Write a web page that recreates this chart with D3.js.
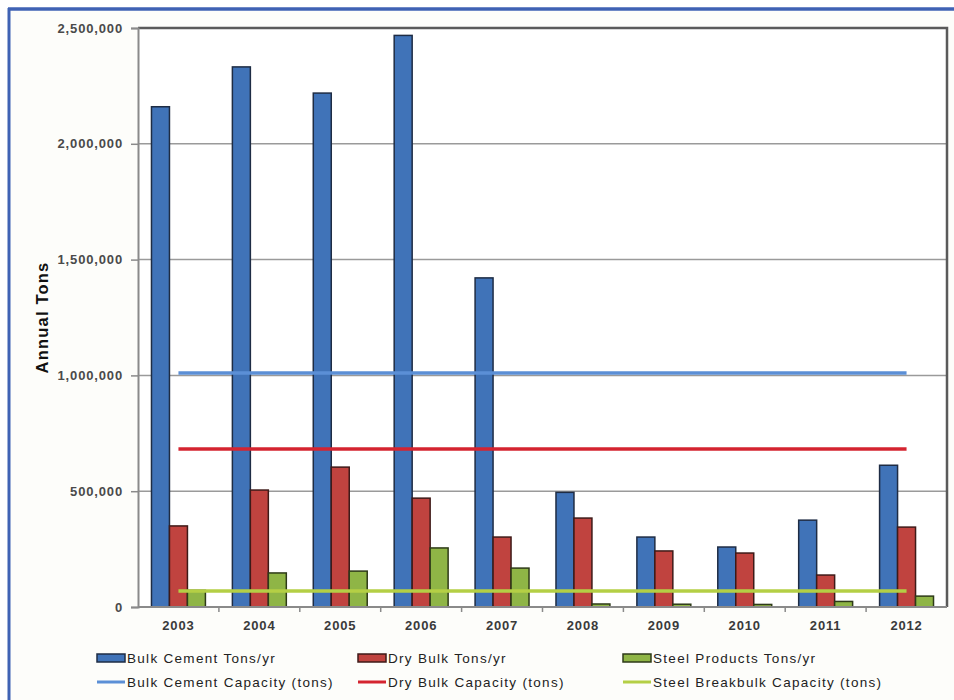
<!DOCTYPE html>
<html>
<head>
<meta charset="utf-8">
<script src="https://cdn.jsdelivr.net/npm/d3@7"></script>
<style>
  body { margin: 0; background: #fff; }
  text { font-family: Arial, "Liberation Sans", sans-serif; }
</style>
</head>
<body>
<div class="box"></div>
<script>
// DATA
const years = ['2003', '2004', '2005', '2006', '2007', '2008', '2009', '2010', '2011', '2012'];
const bulkCement = [2160000, 2332000, 2219000, 2468000, 1421000, 495000, 302000, 259000, 375000, 612000];
const dryBulk = [350000, 505000, 604000, 470000, 302000, 384000, 242000, 233000, 138000, 345000];
const steelProducts = [72000, 147000, 155000, 255000, 168000, 13000, 12000, 11000, 24000, 47000];
const bulkCementCap = [1010000, 1010000, 1010000, 1010000, 1010000, 1010000, 1010000, 1010000, 1010000, 1010000];
const dryBulkCap = [682000, 682000, 682000, 682000, 682000, 682000, 682000, 682000, 682000, 682000];
const steelCap = [69000, 69000, 69000, 69000, 69000, 69000, 69000, 69000, 69000, 69000];
const yTicks = [0, 500000, 1000000, 1500000, 2000000, 2500000];

const barSeries = [
  {name: 'Bulk Cement Tons/yr', values: bulkCement, fill: '#4073b8', stroke: '#1e2c44'},
  {name: 'Dry Bulk Tons/yr', values: dryBulk, fill: '#c0433f', stroke: '#3e1a18'},
  {name: 'Steel Products Tons/yr', values: steelProducts, fill: '#8fb546', stroke: '#2e3a18'}
];
const lineSeries = [
  {name: 'Bulk Cement Capacity (tons)', values: bulkCementCap, color: '#5b8fd6'},
  {name: 'Dry Bulk Capacity (tons)', values: dryBulkCap, color: '#d42430'},
  {name: 'Steel Breakbulk Capacity (tons)', values: steelCap, color: '#b4cf45'}
];

// SETUP
const W = 954, H = 700;
const plot = {left: 138, right: 947, top: 28, bottom: 607};

const svg = d3.select('.box')
              .append('svg')
              .attr('width', W)
              .attr('height', H);

// frame (only top and left edges show)
svg.append('rect').attr('x', 9).attr('y', 9).attr('width', W).attr('height', H)
   .attr('fill', '#fdfdfa');
svg.append('line').attr('x1', 8).attr('x2', W).attr('y1', 9).attr('y2', 9)
   .attr('stroke', '#3f62b4').attr('stroke-width', 3.5);
svg.append('line').attr('x1', 9).attr('x2', 9).attr('y1', 8).attr('y2', H)
   .attr('stroke', '#3f62b4').attr('stroke-width', 3);

// scales
const x0 = d3.scaleBand()
             .domain(years)
             .range([plot.left, plot.right])
             .paddingInner(1 / 3)
             .paddingOuter(1 / 6);

const x1 = d3.scaleBand()
             .domain(barSeries.map(d => d.name))
             .range([0, x0.bandwidth()]);

const y = d3.scaleLinear()
            .domain([0, 2500000])
            .range([plot.bottom, plot.top]);

// plot background
svg.append('rect')
   .attr('x', plot.left).attr('y', plot.top)
   .attr('width', plot.right - plot.left).attr('height', plot.bottom - plot.top)
   .attr('fill', '#fff');

// gridlines
svg.append('g')
   .selectAll('line')
   .data(yTicks.filter(d => d > 0))
   .enter()
   .append('line')
   .attr('x1', plot.left).attr('x2', plot.right)
   .attr('y1', d => y(d)).attr('y2', d => y(d))
   .attr('stroke', '#9a9a9a')
   .attr('stroke-width', 1.5);

// bars
const groups = svg.append('g')
                  .selectAll('g')
                  .data(years)
                  .enter()
                  .append('g')
                  .attr('transform', d => `translate(${x0(d)}, 0)`);

groups.selectAll('rect')
      .data((yr, i) => barSeries.map(s => ({s: s, v: s.values[i]})))
      .enter()
      .append('rect')
      .attr('x', d => x1(d.s.name))
      .attr('y', d => y(d.v))
      .attr('width', x1.bandwidth())
      .attr('height', d => y(0) - y(d.v))
      .attr('fill', d => d.s.fill)
      .attr('stroke', d => d.s.stroke)
      .attr('stroke-width', 1.5);

// capacity lines
const line = d3.line()
               .x((d, i) => x0(years[i]) + x0.bandwidth() / 2)
               .y(d => y(d));

svg.append('g')
   .selectAll('path')
   .data(lineSeries)
   .enter()
   .append('path')
   .attr('d', d => line(d.values))
   .attr('fill', 'none')
   .attr('stroke', d => d.color)
   .attr('stroke-width', 3.5);

// plot border
svg.append('path')
   .attr('d', `M${plot.left},${plot.top}H${plot.right}V${plot.bottom}`)
   .attr('fill', 'none')
   .attr('stroke', '#5a5a5a')
   .attr('stroke-width', 2.5);

// y axis
const yAxis = d3.axisLeft(y)
                .tickValues(yTicks)
                .tickFormat(d3.format(','))
                .tickSize(7)
                .tickPadding(8);

const gy = svg.append('g')
              .attr('transform', `translate(${plot.left}, 0)`)
              .call(yAxis);
gy.select('.domain').attr('stroke', '#8a8a8a').attr('stroke-width', 2);
gy.selectAll('.tick line').attr('stroke', '#8a8a8a').attr('stroke-width', 1.5);
gy.selectAll('text')
  .attr('font-size', 13)
  .attr('font-weight', 'bold')
  .attr('letter-spacing', 0.85)
  .attr('fill', '#4a4a4a');

// x axis: ticks on category boundaries
const gx = svg.append('g')
              .attr('transform', `translate(0, ${plot.bottom})`);
gx.append('line')
  .attr('x1', plot.left).attr('x2', plot.right)
  .attr('stroke', '#8a8a8a').attr('stroke-width', 2);
gx.selectAll('.bnd')
  .data(years.slice(1))
  .enter()
  .append('line')
  .attr('class', 'bnd')
  .attr('x1', d => x0(d) - x0.step() * x0.paddingInner() / 2)
  .attr('x2', d => x0(d) - x0.step() * x0.paddingInner() / 2)
  .attr('y1', 0).attr('y2', 5)
  .attr('stroke', '#8a8a8a').attr('stroke-width', 1.5);
gx.selectAll('.lbl')
  .data(years)
  .enter()
  .append('text')
  .attr('class', 'lbl')
  .attr('x', d => x0(d) + x0.bandwidth() / 2)
  .attr('y', 23)
  .attr('text-anchor', 'middle')
  .attr('font-size', 13)
  .attr('font-weight', 'bold')
  .attr('letter-spacing', 0.85)
  .attr('fill', '#3a3a3a')
  .text(d => d);

// y title
svg.append('text')
   .attr('transform', `translate(48, ${(plot.top + plot.bottom) / 2}) rotate(-90)`)
   .attr('text-anchor', 'middle')
   .attr('font-size', 16.5)
   .attr('font-weight', 'bold')
   .attr('letter-spacing', 1.2)
   .attr('fill', '#111')
   .text('Annual Tons');

// legend
const legendX = [97, 358, 623];
const legendY = [658, 682];

const legBars = svg.append('g')
                   .selectAll('g')
                   .data(barSeries)
                   .enter()
                   .append('g')
                   .attr('transform', (d, i) => `translate(${legendX[i]}, ${legendY[0]})`);
legBars.append('rect')
       .attr('x', 0).attr('y', -4)
       .attr('width', 28).attr('height', 8)
       .attr('fill', d => d.fill)
       .attr('stroke', d => d.stroke)
       .attr('stroke-width', 1.5);
legBars.append('text')
       .attr('x', 30).attr('y', 5)
       .attr('font-size', 13.5)
       .attr('fill', '#222')
       .attr('letter-spacing', 1.3)
       .text(d => d.name);

const legLines = svg.append('g')
                    .selectAll('g')
                    .data(lineSeries)
                    .enter()
                    .append('g')
                    .attr('transform', (d, i) => `translate(${legendX[i]}, ${legendY[1]})`);
legLines.append('line')
        .attr('x1', 0).attr('x2', 28)
        .attr('stroke', d => d.color)
        .attr('stroke-width', 3);
legLines.append('text')
        .attr('x', 30).attr('y', 5)
        .attr('font-size', 13.5)
        .attr('fill', '#222')
        .attr('letter-spacing', 1.3)
        .text(d => d.name);
</script>
</body>
</html>
